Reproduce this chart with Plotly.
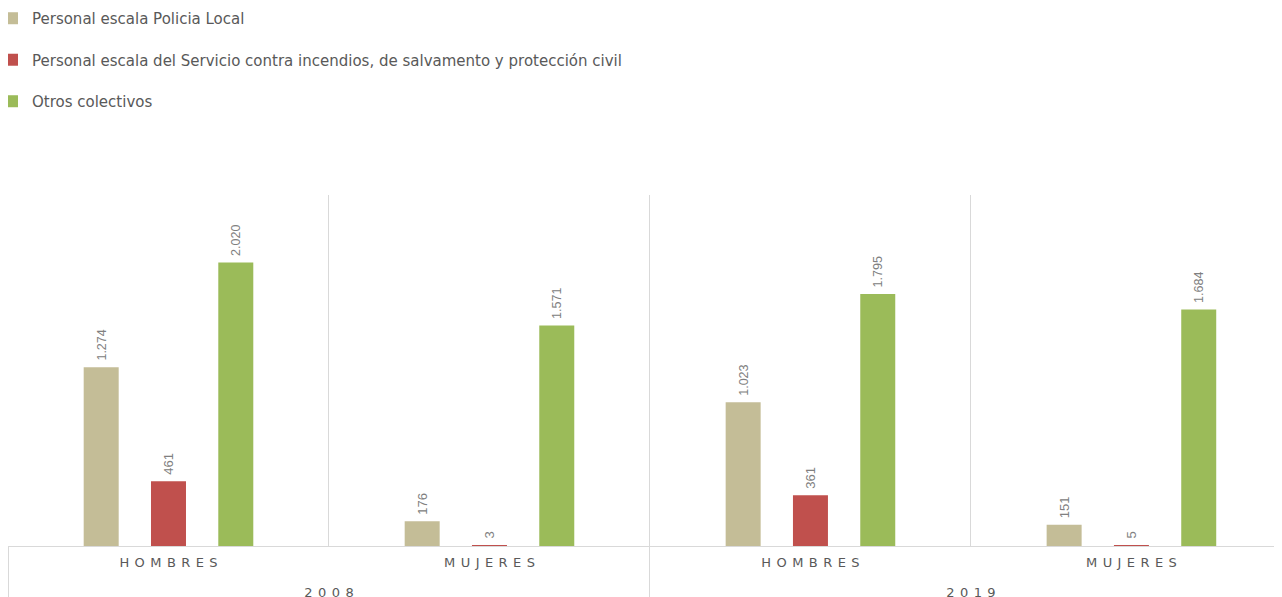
import plotly.graph_objects as go

years = ["2008", "2008", "2019", "2019"]
genders = ["HOMBRES", "MUJERES", "HOMBRES", "MUJERES"]
series_names = [
    "Personal escala Policia Local",
    "Personal escala del Servicio contra incendios, de salvamento y protección civil",
    "Otros colectivos",
]
policia = [1274, 176, 1023, 151]
incendios = [461, 3, 361, 5]
otros = [2020, 1571, 1795, 1684]
colors = ["#C4BD97", "#C0504D", "#9BBB59"]

SP = " \u200a"
def spaced(s):
    return SP.join(list(s))

x = [[spaced(y) for y in years], [spaced(g) + "<br>\u00a0" for g in genders]]

fig = go.Figure()
for i, (name, vals) in enumerate(zip(series_names, [policia, incendios, otros])):
    fig.add_trace(go.Bar(
        x=x, y=vals, name=name, marker_color=colors[i], marker_line_width=0,
        text=vals, texttemplate="\u00a0%{y:,}", textposition="outside",
        textangle=-90, cliponaxis=False,
        textfont=dict(family="Liberation Sans, Arial", size=13, color="#808080"),
        legendgroup=str(i),
    ))

fig.update_layout(
    width=1282, height=597,
    barmode="group", bargap=0.371, bargroupgap=0.48,
    separators=",.",
    plot_bgcolor="white", paper_bgcolor="white",
    margin=dict(l=0, r=0, t=187, b=59, autoexpand=False),
    font=dict(family="DejaVu Sans, Open Sans, Arial", color="#595959"),
    legend=dict(
        x=-0.0125, y=1.5499, xref="paper", yref="paper", xanchor="left", yanchor="top",
        font=dict(size=15, color="#595959"), tracegroupgap=19, itemwidth=30,
        bgcolor="rgba(0,0,0,0)",
    ),
    showlegend=True,
)
fig.update_xaxes(
    type="multicategory",
    range=[-0.5, 3.494],
    showgrid=True, gridcolor="#d9d9d9", gridwidth=1,
    tickson="boundaries",
    showdividers=True, dividercolor="#d9d9d9", dividerwidth=1,
    showline=True, linecolor="#d9d9d9", linewidth=1,
    tickfont=dict(size=13, color="#595959"),
    ticks="", ticklabelstandoff=4,
)
fig.update_yaxes(range=[0, 2500], visible=False, showgrid=False)

fig.write_html("out.html")
